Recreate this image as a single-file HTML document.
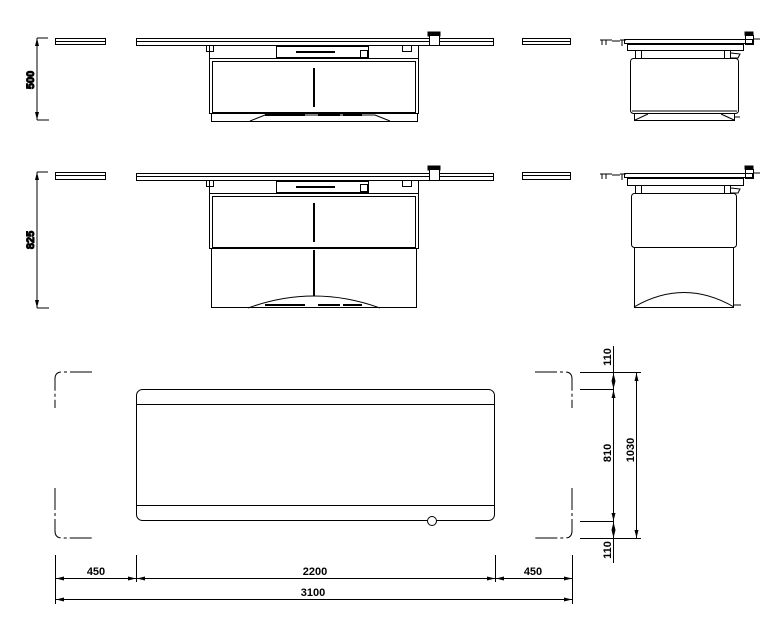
<!DOCTYPE html>
<html><head><meta charset="utf-8"><style>
html,body{margin:0;padding:0;background:#fff;width:784px;height:620px;overflow:hidden}
svg{display:block}
text{font-family:"Liberation Sans Narrow","Liberation Sans",sans-serif;font-size:11px;font-weight:bold;fill:#000}
</style></head><body>
<svg width="784" height="620" viewBox="0 0 784 620" xmlns="http://www.w3.org/2000/svg" fill="none" stroke="#000" stroke-width="1">
<defs>
<marker id="a" viewBox="0 0 8 4" refX="8" refY="2" markerWidth="8" markerHeight="4" orient="auto-start-reverse"><path d="M0,0 L8,2 L0,4Z" fill="#000" stroke="none"/></marker>
</defs>
<!-- Row 1 -->
<line x1="37" y1="38" x2="37" y2="120" marker-start="url(#a)" marker-end="url(#a)"/>
<line x1="37" y1="38" x2="48" y2="38"/><line x1="37" y1="120" x2="49" y2="120"/>
<text transform="translate(37,80) rotate(-90)" text-anchor="middle" dy="-3">500</text>
<rect x="55.5" y="38.5" width="50" height="6"/><line x1="55" y1="41.5" x2="105" y2="41.5"/>
<rect x="522.5" y="38.5" width="48" height="6"/><line x1="522" y1="41.5" x2="570" y2="41.5"/>
<rect x="136.5" y="38.5" width="357" height="7"/><line x1="136" y1="41.5" x2="493" y2="41.5"/>
<rect x="428" y="32" width="12" height="4" fill="#000"/><rect x="429.5" y="35.5" width="10" height="10" fill="#fff"/>
<rect x="206.5" y="45.5" width="7" height="6"/><rect x="402.5" y="45.5" width="9" height="6"/>
<line x1="209.5" y1="46" x2="209.5" y2="58"/><line x1="418.5" y1="46" x2="418.5" y2="58"/>
<rect x="276.5" y="46.5" width="92" height="11"/><line x1="296" y1="52" x2="335" y2="52" stroke-width="2"/>
<rect x="360.5" y="50.5" width="7" height="7"/>
<rect x="209.5" y="58.5" width="209" height="55"/>
<rect x="212.5" y="61.5" width="203" height="51"/>
<line x1="314" y1="68" x2="314" y2="107" stroke-width="2"/>
<rect x="211.5" y="113.5" width="206" height="8"/>
<path d="M250,121 L265,115 L375,115 L390,121"/>
<line x1="265" y1="115" x2="305" y2="115" stroke-width="2"/><line x1="318" y1="115" x2="340" y2="115" stroke-width="2"/><line x1="343" y1="115" x2="362" y2="115" stroke-width="2"/>
<!-- side 1 -->
<path d="M600,40 L612,40 M602,40 L602,45 M606,40 L606,45 M612,41 L620,41 M620,40 L626,40 M622,40 L622,46"/>
<rect x="624.5" y="39.5" width="128" height="4"/><rect x="745" y="32" width="8" height="3" fill="#000"/><rect x="745.5" y="35.5" width="8" height="9"/><line x1="754" y1="39" x2="760" y2="39"/>
<rect x="627.5" y="44.5" width="116" height="6"/>
<rect x="635.5" y="50.5" width="6" height="8"/><rect x="724.5" y="50.5" width="6" height="8"/><path d="M731,53 L740,54 L738,58 L731,58"/>
<rect x="630.5" y="58.5" width="108" height="55" rx="3"/>
<line x1="632" y1="111" x2="737" y2="111"/>
<rect x="634.5" y="113.5" width="100" height="7"/>
<line x1="635" y1="120" x2="648" y2="114"/><line x1="721" y1="114" x2="734" y2="120"/><line x1="735" y1="117" x2="740" y2="117"/>
<!-- Row 2 -->
<line x1="37" y1="172" x2="37" y2="308" marker-start="url(#a)" marker-end="url(#a)"/>
<line x1="37" y1="172" x2="48" y2="172"/><line x1="37" y1="308" x2="49" y2="308"/>
<text transform="translate(37,240) rotate(-90)" text-anchor="middle" dy="-3">825</text>
<rect x="55.5" y="172.5" width="50" height="7"/><line x1="55" y1="175.5" x2="105" y2="175.5"/>
<rect x="522.5" y="172.5" width="48" height="7"/><line x1="522" y1="175.5" x2="570" y2="175.5"/>
<rect x="136.5" y="173.5" width="357" height="7"/><line x1="136" y1="176.5" x2="493" y2="176.5"/>
<rect x="428" y="166" width="12" height="4" fill="#000"/><rect x="429.5" y="169.5" width="10" height="11" fill="#fff"/>
<rect x="206.5" y="180.5" width="7" height="6"/><rect x="402.5" y="180.5" width="9" height="6"/>
<line x1="209.5" y1="181" x2="209.5" y2="193"/><line x1="418.5" y1="181" x2="418.5" y2="193"/>
<rect x="276.5" y="181.5" width="92" height="11"/><line x1="296" y1="187" x2="335" y2="187" stroke-width="2"/>
<rect x="360.5" y="184.5" width="7" height="7"/>
<rect x="209.5" y="193.5" width="209" height="55"/>
<rect x="212.5" y="196.5" width="203" height="51"/>
<line x1="314" y1="203" x2="314" y2="242" stroke-width="2"/>
<rect x="211.5" y="248.5" width="205" height="59"/>
<line x1="314" y1="250" x2="314" y2="296" stroke-width="2"/>
<path d="M248,308 Q314,284 380,308"/>
<line x1="265" y1="305" x2="305" y2="305" stroke-width="2"/><line x1="318" y1="305" x2="340" y2="305" stroke-width="2"/><line x1="343" y1="305" x2="362" y2="305" stroke-width="2"/>
<!-- side 2 -->
<path d="M600,174 L612,174 M602,174 L602,179 M606,174 L606,179 M612,175 L620,175 M620,174 L626,174 M622,174 L622,180"/>
<rect x="624.5" y="173.5" width="128" height="4"/><rect x="745" y="166" width="8" height="3" fill="#000"/><rect x="745.5" y="169.5" width="8" height="9"/><line x1="754" y1="173" x2="760" y2="173"/>
<rect x="627.5" y="178.5" width="116" height="7"/>
<rect x="635.5" y="185.5" width="6" height="8"/><rect x="724.5" y="185.5" width="6" height="8"/><path d="M731,188 L740,189 L738,193 L731,193"/>
<rect x="631.5" y="193.5" width="105" height="54" rx="3"/>
<rect x="634.5" y="247.5" width="99" height="60"/>
<path d="M634,307 Q684,278 734,307"/><line x1="734" y1="305" x2="741" y2="305"/>
<!-- Plan view -->
<path d="M92,372 L62,372 Q55,372 55,379 L55,408" stroke-dasharray="22,3,3,3"/>
<path d="M55,488 L55,531 Q55,538 62,538 L92,538" stroke-dasharray="22,3,3,3"/>
<path d="M535,372 L565,372 Q572,372 572,379 L572,408" stroke-dasharray="22,3,3,3"/>
<path d="M572,488 L572,531 Q572,538 565,538 L535,538" stroke-dasharray="22,3,3,3"/>
<rect x="136.5" y="389.5" width="358" height="131" rx="6"/>
<line x1="136" y1="404.5" x2="494" y2="404.5"/><line x1="136" y1="505.5" x2="494" y2="505.5"/>
<circle cx="432" cy="521" r="4.5" fill="#fff"/>
<!-- horizontal dims -->
<line x1="55.5" y1="555" x2="55.5" y2="604"/><line x1="136.5" y1="555" x2="136.5" y2="582"/>
<line x1="495.5" y1="555" x2="495.5" y2="582"/><line x1="572.5" y1="555" x2="572.5" y2="604"/>
<line x1="56" y1="578.5" x2="136" y2="578.5" marker-start="url(#a)" marker-end="url(#a)"/>
<line x1="137" y1="578.5" x2="495" y2="578.5" marker-start="url(#a)" marker-end="url(#a)"/>
<line x1="496" y1="578.5" x2="572" y2="578.5" marker-start="url(#a)" marker-end="url(#a)"/>
<line x1="56" y1="599.5" x2="572" y2="599.5" marker-start="url(#a)" marker-end="url(#a)"/>
<text x="96" y="575" text-anchor="middle" stroke="none">450</text>
<text x="315" y="575" text-anchor="middle" stroke="none">2200</text>
<text x="533" y="575" text-anchor="middle" stroke="none">450</text>
<text x="313" y="596" text-anchor="middle" stroke="none">3100</text>
<!-- vertical dims -->
<line x1="580" y1="372.5" x2="641" y2="372.5"/><line x1="580" y1="389.5" x2="613" y2="389.5"/>
<line x1="580" y1="521.5" x2="613" y2="521.5"/><line x1="580" y1="538.5" x2="641" y2="538.5"/>
<line x1="613.5" y1="346" x2="613.5" y2="563"/>
<line x1="613.5" y1="373" x2="613.5" y2="389" marker-start="url(#a)" marker-end="url(#a)"/>
<line x1="613.5" y1="390" x2="613.5" y2="521" marker-start="url(#a)" marker-end="url(#a)"/>
<line x1="613.5" y1="522" x2="613.5" y2="538" marker-start="url(#a)" marker-end="url(#a)"/>
<line x1="636.5" y1="373" x2="636.5" y2="538" marker-start="url(#a)" marker-end="url(#a)"/>
<text transform="translate(611,357) rotate(-90)" text-anchor="middle" stroke="none">110</text>
<text transform="translate(611,453) rotate(-90)" text-anchor="middle" stroke="none">810</text>
<text transform="translate(634,450) rotate(-90)" text-anchor="middle" stroke="none">1030</text>
<text transform="translate(611,550) rotate(-90)" text-anchor="middle" stroke="none">110</text>
</svg>
</body></html>
